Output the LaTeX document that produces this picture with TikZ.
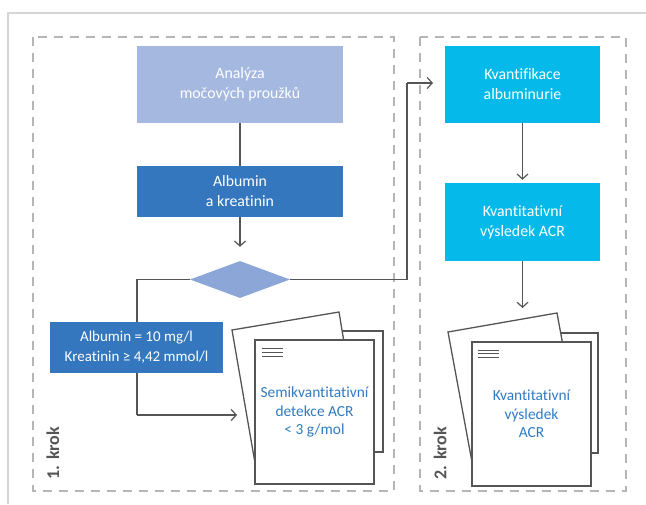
\documentclass[tikz,border=0pt]{standalone}
\usepackage{fontspec}
\setmainfont{Carlito}[Ligatures=NoCommon]
\usetikzlibrary{arrows.meta,shapes.geometric,calc}
\definecolor{lightblue}{HTML}{A5B8E0}
\definecolor{midblue}{HTML}{3477BE}
\definecolor{diablue}{HTML}{8CA6D8}
\definecolor{cyanbox}{HTML}{05BAEB}
\definecolor{linegray}{HTML}{555555}
\definecolor{dashgray}{HTML}{B5B5B5}
\definecolor{framegray}{HTML}{D5D5D5}
\definecolor{doctext}{HTML}{2F7BC4}
\tikzset{
  x=1pt,y=-1pt,
  box/.style={rectangle,inner sep=0pt,align=center,text=white,font=\fontsize{15.8}{20}\selectfont},
  conn/.style={draw=linegray,line width=1.4pt},
  arr/.style={conn,-{Straight Barb[length=5pt,width=11pt,line width=1.2pt]}},
  stepframe/.style={draw=dashgray,line width=1.3pt,dash pattern=on 9pt off 7pt},
  page/.style={draw=linegray,line width=1.3pt,fill=white},
  docpage/.style={page,rectangle,inner sep=0pt,minimum width=119pt,minimum height=144pt,text=doctext,align=center,font=\fontsize{15.4}{18.5}\selectfont},
  krok/.style={rotate=90,text=linegray,font=\fontsize{18}{20}\selectfont\bfseries}
}
\begin{document}
\begin{tikzpicture}
\useasboundingbox (0,0) rectangle (646,504);
% outer frame
\draw[framegray,line width=1.2pt] (8,504) -- (8,13) -- (646,13);
% dashed step frames
\draw[stepframe] (33,37) rectangle (394,491);
\draw[stepframe] (420,37) rectangle (626,491);
\node[krok] (k1) at (53,453) {1. krok};
\node[krok] (k2) at (440,453) {2. krok};

% boxes step 1
\node[box,fill=lightblue,minimum width=206pt,minimum height=77pt] (ana) at (240,84.5) {Analýza\\močových proužků};
\node[box,fill=midblue,minimum width=206pt,minimum height=51pt] (alb) at (240,191.5) {Albumin\\a kreatinin};
\node[diamond,fill=diablue,inner sep=0pt,minimum width=100pt,minimum height=37pt,aspect=2.7] (dia) at (240,279.5) {};

% step 2 boxes
\node[box,fill=cyanbox,minimum width=155pt,minimum height=77pt] (kv) at (522.5,84.5) {Kvantifikace\\albuminurie};
\node[box,fill=cyanbox,minimum width=155pt,minimum height=78pt] (kvr) at (522.5,222) {Kvantitativní\\výsledek ACR};

% connectors step 1
\draw[conn] (ana.south) -- (alb.north);
\draw[arr,shorten >=14pt] (alb.south) -- (dia.north);
\coordinate (c1) at (137,415);
\coordinate (d1in) at (237,415);
\draw[conn] (dia.west) -| (c1);
\draw[arr] (c1) -- (d1in);
\node[box,fill=midblue,minimum width=173pt,minimum height=51pt,font=\fontsize{15}{20}\selectfont] (cond) at (136.5,347.5) {Albumin = 10 mg/l\\Kreatinin ≥ 4,42 mmol/l};

% connector to step 2
\coordinate (c2) at (407,83);
\coordinate (kvin) at (433,83);
\draw[conn] (dia.east) -| (c2);
\draw[arr] (c2) -- (kvin);
\draw[arr,shorten >=3pt] (kv.south) -- (kvr.north);
\coordinate (d2in) at (522.5,308);
\draw[arr] (kvr.south) -- (d2in);

% document stack 1
\draw[page] (264,331) rectangle (383,452);
\draw[page] (232,330) -- (339,312) -- (361,445) -- (255,463) -- cycle;
\node[docpage] (doc1) at (314.5,412) {Semikvantitativní\\detekce ACR\\< 3 g/mol};
\draw[linegray,line width=1pt] (262,348) -- (283,348) (262,352) -- (283,352) (262,356) -- (283,356);

% document stack 2
\draw[page] (479,333) rectangle (598,453);
\draw[page] (448,332) -- (557,313) -- (581,443) -- (472,462) -- cycle;
\node[docpage] (doc2) at (531.5,414) {Kvantitativní\\výsledek\\ACR};
\draw[linegray,line width=1pt] (478,350) -- (499,350) (478,353.5) -- (499,353.5) (478,357) -- (499,357);
\end{tikzpicture}
\end{document}
